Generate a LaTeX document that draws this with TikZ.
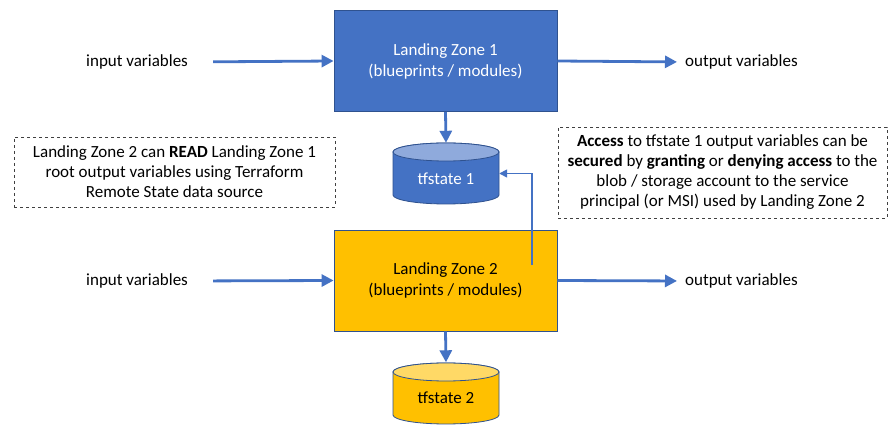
\documentclass[tikz,border=0pt]{standalone}
\usepackage{fontspec}
\setmainfont{Carlito}
\usetikzlibrary{arrows.meta}
\definecolor{lzblue}{HTML}{4472C4}
\definecolor{lzdark}{HTML}{2F528F}
\definecolor{lzyellow}{HTML}{FFC000}
\definecolor{tfbluetop}{HTML}{8FAADC}
\definecolor{tfyellowtop}{HTML}{FFD966}
\definecolor{dashgray}{HTML}{404040}
\tikzset{
  lzbox/.style={draw=lzdark, line width=0.8pt, minimum width=223, minimum height=101,
    inner sep=0, align=center, font=\fontsize{17}{21}\selectfont},
  plain/.style={inner sep=0, font=\fontsize{17}{20}\selectfont},
  note/.style={draw=dashgray, dashed, line width=0.7pt, inner sep=0, align=center,
    font=\fontsize{17}{20}\selectfont},
  flow/.style={draw=lzblue, line width=2.8pt, -{Triangle[length=12pt, width=12pt]}},
  thinflow/.style={draw=lzblue, line width=1.6pt, -{Triangle[length=8pt, width=8pt]}},
  cylbody/.style={draw=lzdark, line width=0.8pt},
}
\begin{document}
\begin{tikzpicture}[x=1pt, y=-1pt]
\useasboundingbox (0,0) rectangle (895,427);
\fill[white] (0,0) rectangle (895,427);

% Landing zones
\node[lzbox, fill=lzblue, text=white] (lz1) at (445.5,61) {Landing Zone 1\\(blueprints / modules)};
\node[lzbox, fill=lzyellow, text=black] (lz2) at (445.5,280.5) {Landing Zone 2\\(blueprints / modules)};

% tfstate 1 cylinder
\filldraw[cylbody, fill=lzblue] (393,152) -- (393,195) arc[start angle=180, end angle=0, x radius=53, y radius=9]
  -- (499,152) arc[start angle=0, end angle=-180, x radius=53, y radius=9] -- cycle;
\filldraw[cylbody, fill=tfbluetop] (446,152) ellipse[x radius=53, y radius=9];
\node[minimum width=106, minimum height=61, inner sep=0] (tf1) at (446,173.5) {};
\node[plain, text=white] (tf1t) at (446,179) {tfstate 1};

% tfstate 2 cylinder
\filldraw[cylbody, fill=lzyellow] (393,372) -- (393,415) arc[start angle=180, end angle=0, x radius=53, y radius=9]
  -- (499,372) arc[start angle=0, end angle=-180, x radius=53, y radius=9] -- cycle;
\filldraw[cylbody, fill=tfyellowtop] (446,372) ellipse[x radius=53, y radius=9];
\node[minimum width=106, minimum height=61, inner sep=0] (tf2) at (446,393) {};
\node[plain] (tf2t) at (446,398) {tfstate 2};

% variables
\node[plain, anchor=west] (in1) at (86,62) {input variables};
\node[plain, anchor=west] (out1) at (685,62) {output variables};
\node[plain, anchor=west] (in2) at (86,281) {input variables};
\node[plain, anchor=west] (out2) at (685,281) {output variables};

\draw[flow, shorten <=25pt] (in1.east) -- (lz1.west);
\draw[flow, shorten >=8pt] (lz1.east) -- (out1.west);
\draw[flow, shorten <=25pt] (in2.east) -- (lz2.west);
\draw[flow, shorten >=8pt] (lz2.east) -- (out2.west);
\draw[flow] (lz1.south) -- (tf1.north);
\draw[flow] (lz2.south) -- (tf2.north);

% read connector
\coordinate (lz2out) at (532,265);
\draw[thinflow] (lz2out) |- (tf1.east);

% notes
\node[note, minimum width=321, minimum height=70] (note1) at (174.5,172)
  {Landing Zone 2 can \textbf{READ} Landing Zone 1\\
   root output variables using Terraform\\ Remote State data source};
\node[note, minimum width=329, minimum height=91] (note2) at (722.5,172.5)
  {\textbf{Access} to tfstate 1 output variables can be\\
   \textbf{secured} by \textbf{granting} or \textbf{denying access} to the\\
   blob / storage account to the service\\
   principal (or MSI) used by Landing Zone 2};
\end{tikzpicture}
\end{document}
